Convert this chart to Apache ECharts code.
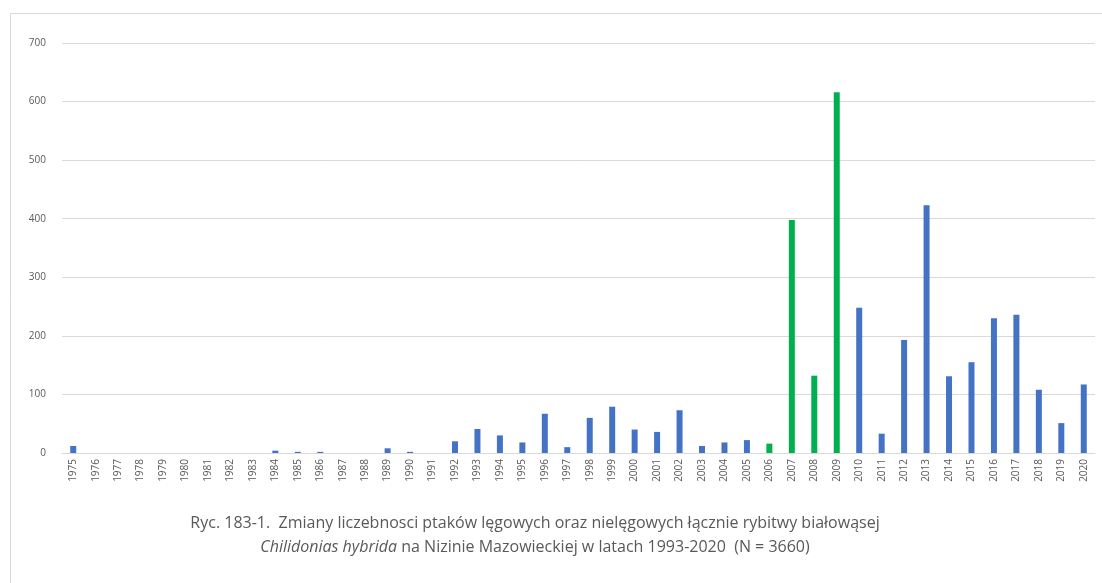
<!DOCTYPE html>
<html>
<head>
<meta charset="utf-8">
<script src="https://cdn.jsdelivr.net/npm/echarts@6/dist/echarts.min.js"></script>
<style>html,body{margin:0;padding:0;background:#fff}#c{width:1102px;height:583px}</style>
</head>
<body>
<div id="c"></div>
<script>
const years = ['1975','1976','1977','1978','1979','1980','1981','1982','1983','1984','1985','1986','1987','1988','1989','1990','1991','1992','1993','1994','1995','1996','1997','1998','1999','2000','2001','2002','2003','2004','2005','2006','2007','2008','2009','2010','2011','2012','2013','2014','2015','2016','2017','2018','2019','2020'];
const counts = [12,0,0,0,0,0,0,0,0,4,2,2,0,0,8,2,0,20,41,30,18,67,10,60,79,40,36,73,12,18,22,16,398,132,616,248,33,193,423,131,155,230,236,108,51,117];
const greenYears = ['2006','2007','2008','2009'];
const yTicks = [0,100,200,300,400,500,600,700];
const captionLine1 = 'Ryc. 183-1.  Zmiany liczebnosci ptaków lęgowych oraz nielęgowych łącznie rybitwy białowąsej';
const captionSpecies = 'Chilidonias hybrida';
const captionLine2 = ' na Nizinie Mazowieckiej w latach 1993-2020  (N = 3660)';

const BLUE = '#4472C4', GREEN = '#00B050';
const chart = echarts.init(document.getElementById('c'));
chart.setOption({
  animation: false,
  backgroundColor: '#fff',
  graphic: [{
    type: 'rect', shape: {x: 10.5, y: 13.5, width: 1100, height: 600},
    style: {fill: 'none', stroke: '#d9d9d9', lineWidth: 1}, silent: true
  }],
  title: {
    left: 530, top: 506, textAlign: 'center',
    text: '{n|' + captionLine1 + '}\n{i|' + captionSpecies + '}{n|' + captionLine2 + '}',
    textStyle: {
      fontWeight: 'normal',
      rich: {
        n: {fontFamily: 'Open Sans', fontSize: 16, fontWeight: 'normal', color: '#595959', lineHeight: 24},
        i: {fontFamily: 'Open Sans', fontSize: 16, fontWeight: 'normal', fontStyle: 'italic', color: '#595959', lineHeight: 24}
      }
    }
  },
  grid: {left: 62, right: 7, top: 43, bottom: 130, containLabel: false},
  xAxis: {
    type: 'category', data: years,
    axisLine: {lineStyle: {color: '#d9d9d9'}},
    axisTick: {show: false},
    axisLabel: {rotate: 90, interval: 0, fontSize: 10, color: '#595959', fontFamily: 'Open Sans', margin: 6}
  },
  yAxis: {
    type: 'value', min: yTicks[0], max: yTicks[yTicks.length - 1], interval: 100,
    axisLine: {show: false}, axisTick: {show: false},
    axisLabel: {fontSize: 10, color: '#595959', fontFamily: 'Open Sans', margin: 16},
    splitLine: {lineStyle: {color: '#d9d9d9'}}
  },
  series: [{
    type: 'bar', barWidth: 6,
    data: counts.map((v, i) => ({
      value: v,
      itemStyle: {color: greenYears.includes(years[i]) ? GREEN : BLUE}
    }))
  }]
});
</script>
</body>
</html>
